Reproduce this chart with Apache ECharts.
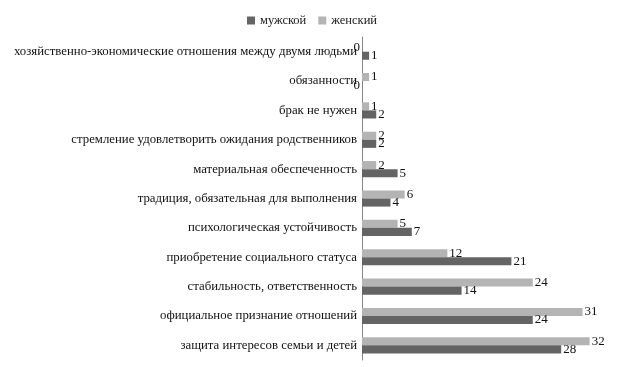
<!DOCTYPE html>
<html><head><meta charset="utf-8">
<script src="https://cdn.jsdelivr.net/npm/echarts@6/dist/echarts.min.js"></script>
<style>html,body{margin:0;padding:0;background:#fff}#c{width:624px;height:367px}</style>
</head><body><div id="c"></div>
<script>
const categories = [
  "защита интересов семьи и детей",
  "официальное признание отношений",
  "стабильность, ответственность",
  "приобретение социального статуса",
  "психологическая устойчивость",
  "традиция, обязательная для выполнения",
  "материальная обеспеченность",
  "стремление удовлетворить ожидания родственников",
  "брак не нужен",
  "обязанности",
  "хозяйственно-экономические отношения между двумя людьми"
];
const male = [28, 24, 14, 21, 7, 4, 5, 2, 2, 0, 1];
const female = [32, 31, 24, 12, 5, 6, 2, 2, 1, 1, 0];

const FONT = "'Liberation Serif', 'DejaVu Serif', serif";
function toData(arr) {
  return arr.map(v => v === 0 ? {value: v, label: {position: 'left', distance: 2}} : v);
}
const valueLabel = {show: true, position: 'right', distance: 2, fontFamily: FONT, fontSize: 13, color: '#111', verticalAlign: 'middle'};
const chart = echarts.init(document.getElementById('c'), null, {renderer: 'canvas'});
chart.setOption({
  animation: false,
  textStyle: {fontFamily: FONT},
  legend: {
    top: 9, left: 'center',
    itemWidth: 8, itemHeight: 8, itemGap: 12,
    icon: 'rect',
    textStyle: {fontFamily: FONT, fontSize: 12.5, color: '#222'},
    data: ['мужской', 'женский']
  },
  grid: {left: 362, right: 13, top: 37, bottom: 7, containLabel: false},
  xAxis: {
    type: 'value', min: 0, max: 35, show: false
  },
  yAxis: {
    type: 'category', data: categories,
    axisLine: {show: true, lineStyle: {color: '#868686', width: 1}},
    axisTick: {show: false},
    axisLabel: {fontFamily: FONT, fontSize: 12.8, color: '#111', margin: 5}
  },
  series: [
    {name: 'женский', type: 'bar', data: toData(female),
     itemStyle: {color: '#b4b4b4'}, barGap: '0%', barCategoryGap: '45%',
     label: valueLabel},
    {name: 'мужской', type: 'bar', data: toData(male),
     itemStyle: {color: '#646464'}, barGap: '0%', barCategoryGap: '45%',
     label: valueLabel}
  ]
});
</script></body></html>
